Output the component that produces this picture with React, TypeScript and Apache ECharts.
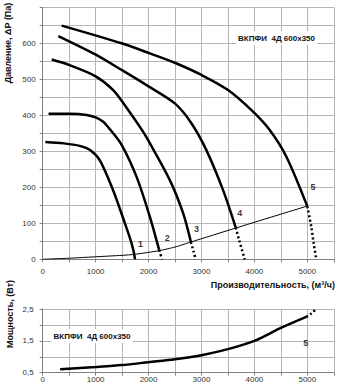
import React, { useEffect, useRef } from "react";
import * as echarts from "echarts";

// Fan curves: [flow m3/h, pressure Pa]
const curve1: number[][] = [[50, 326], [400, 322], [700, 315], [900, 303], [1080, 275], [1330, 192], [1520, 114], [1680, 44], [1745, 0]];
const curve2: number[][] = [[110, 404], [500, 404], [830, 401], [1000, 394], [1143, 382], [1270, 361], [1491, 318], [1774, 229], [2025, 118], [2200, 26]];
const curve2Dot: number[][] = [[2200, 26], [2255, 0]];
const curve3: number[][] = [[170, 555], [496, 540], [993, 509], [1332, 470], [1615, 415], [1868, 361], [1992, 331], [2402, 220], [2653, 128], [2800, 48]];
const curve3Dot: number[][] = [[2800, 48], [2850, 22], [2890, 0]];
const curve4: number[][] = [[295, 620], [993, 569], [1490, 526], [1992, 481], [2496, 433], [2800, 380], [3090, 304], [3408, 192], [3647, 88]];
const curve4Dot: number[][] = [[3647, 88], [3710, 54], [3817, 0]];
const curve5: number[][] = [[358, 649], [1490, 600], [2025, 572], [2496, 546], [3000, 512], [3502, 470], [3974, 410], [4289, 359], [4604, 285], [5000, 147]];
const curve5Dot: number[][] = [[5000, 147], [5075, 90], [5120, 44], [5170, 0]];
const systemCurve: number[][] = [[0, 0], [500, 3], [1000, 7], [1500, 11], [1750, 14], [2200, 24], [2500, 34], [2800, 48], [3650, 87], [5000, 148]];
const curveNames = ["1", "2", "3", "4", "5"];
const curveLabelPos: number[][] = [[1849, 42], [2351, 58], [2906, 83], [3723, 128], [5106, 202]];

// Power curve: [flow, power]
const power: number[][] = [[330, 0.61], [1000, 0.68], [1500, 0.74], [2000, 0.83], [2500, 0.92], [3000, 1.05], [3500, 1.24], [4000, 1.5], [4480, 1.89], [4980, 2.25]];
const powerDot: number[][] = [[4980, 2.25], [5075, 2.36], [5170, 2.5]];
const powerLabelPos: number[][] = [[4970, 1.44]];

const title = "ВКПФИ  4Д 600х350";
const yName1 = "Давление, ΔP (Па)";
const yName2 = "Мощность, (Вт)";
const xName = "Производительность, (м³/ч)";

export default function App() {
  const ref = useRef<HTMLDivElement>(null);
  useEffect(() => {
    const chart = echarts.init(ref.current!, null, { renderer: "svg" });
    const font = "Liberation Sans, Arial, sans-serif";
    const gridLine = { show: true, lineStyle: { color: "#b5b5b5", width: 1 } };
    const axLine = { show: true, lineStyle: { color: "#808080", width: 1 } };
    const tick = { show: true, length: 3, lineStyle: { color: "#808080" } };
    const solid = (data: number[][]) => ({
      type: "line", xAxisIndex: 0, yAxisIndex: 0, data, smooth: 0.3, symbol: "none",
      lineStyle: { color: "#000", width: 2.5 }, silent: true,
    });
    const dotted = (data: number[][], xi = 0) => ({
      type: "line", xAxisIndex: xi, yAxisIndex: xi, data, smooth: 0.3, symbol: "none",
      lineStyle: { color: "#000", width: 2.5, type: [2, 2.5] }, silent: true,
    });
    chart.setOption({
      animation: false,
      grid: [
        { left: 42.7, right: 6.2, top: 7.3, height: 252 },
        { left: 42.7, right: 6.2, top: 309, height: 63.7 },
      ],
      xAxis: [
        {
          gridIndex: 0, type: "value", min: 0, max: 5500, interval: 500,
          axisLabel: { formatter: (v: number) => (v % 1000 === 0 && v <= 5000 ? String(v) : ""), fontSize: 8, color: "#333", margin: 8, fontFamily: font },
          splitLine: gridLine, axisLine: axLine, axisTick: tick,
        },
        {
          gridIndex: 1, type: "value", min: 0, max: 5500, interval: 500,
          axisLabel: { formatter: (v: number) => (v % 1000 === 0 && v <= 5000 ? String(v) : ""), fontSize: 8, color: "#333", margin: 3, fontFamily: font },
          splitLine: gridLine, axisLine: axLine, axisTick: tick,
        },
      ],
      yAxis: [
        {
          gridIndex: 0, type: "value", min: 0, max: 700, interval: 50,
          axisLabel: { formatter: (v: number) => (v % 100 === 0 && v < 700 ? String(v) : ""), fontSize: 8, color: "#333", margin: 7, fontFamily: font },
          splitLine: gridLine, axisLine: axLine, axisTick: tick,
        },
        {
          gridIndex: 1, type: "value", min: 0.5, max: 2.5, interval: 0.5,
          axisLabel: { formatter: (v: number) => (Math.abs(v - 0.5) < 1e-6 || Math.abs(v - 1.5) < 1e-6 || Math.abs(v - 2.5) < 1e-6 ? String(v).replace(".", ",") : ""), fontSize: 8, color: "#333", margin: 9, fontFamily: font },
          splitLine: gridLine, axisLine: axLine, axisTick: tick,
        },
      ],
      series: [
        solid(curve1), solid(curve2), solid(curve3), solid(curve4), solid(curve5),
        dotted(curve2Dot), dotted(curve3Dot), dotted(curve4Dot), dotted(curve5Dot),
        {
          type: "line", xAxisIndex: 0, yAxisIndex: 0, data: systemCurve, smooth: 0.2, symbol: "none",
          lineStyle: { color: "#000", width: 1 }, silent: true,
        },
        {
          type: "scatter", xAxisIndex: 0, yAxisIndex: 0, symbolSize: 0, silent: true,
          data: curveLabelPos.map((p, i) => ({ name: curveNames[i], value: p })),
          label: { show: true, position: "inside", formatter: (p: any) => p.name, fontSize: 9, fontWeight: "bold", color: "#000", fontFamily: font },
        },
        {
          type: "line", xAxisIndex: 1, yAxisIndex: 1, data: power, smooth: 0.3, symbol: "none",
          lineStyle: { color: "#000", width: 2.5 }, silent: true,
        },
        dotted(powerDot, 1),
        {
          type: "scatter", xAxisIndex: 1, yAxisIndex: 1, symbolSize: 0, silent: true,
          data: powerLabelPos.map((p) => ({ name: "5", value: p })),
          label: { show: true, position: "inside", formatter: (p: any) => p.name, fontSize: 9, fontWeight: "bold", color: "#000", fontFamily: font },
        },
      ],
      graphic: [
        {
          type: "text", x: 276.5, y: 38, z: 100,
          style: { text: title, fill: "#111", font: `bold 8px ${font}`, align: "center", verticalAlign: "middle", backgroundColor: "#fff", padding: [3, 2] },
        },
        {
          type: "text", x: 92, y: 336, z: 100,
          style: { text: title, fill: "#111", font: `bold 8px ${font}`, align: "center", verticalAlign: "middle", backgroundColor: "#fff", padding: [3, 2] },
        },
        {
          type: "text", x: 8, y: 43, rotation: Math.PI / 2,
          style: { text: yName1, fill: "#111", font: `bold 9px ${font}`, align: "center", verticalAlign: "middle" },
        },
        {
          type: "text", x: 10, y: 314, rotation: Math.PI / 2,
          style: { text: yName2, fill: "#111", font: `bold 9px ${font}`, align: "center", verticalAlign: "middle" },
        },
        {
          type: "text", x: 335, y: 285,
          style: { text: xName, fill: "#111", font: `bold 9px ${font}`, align: "right", verticalAlign: "middle" },
        },
      ],
    });
    return () => chart.dispose();
  }, []);
  return <div ref={ref} style={{ position: "fixed", left: 0, top: 0, width: 340, height: 392, background: "#fff" }} />;
}
